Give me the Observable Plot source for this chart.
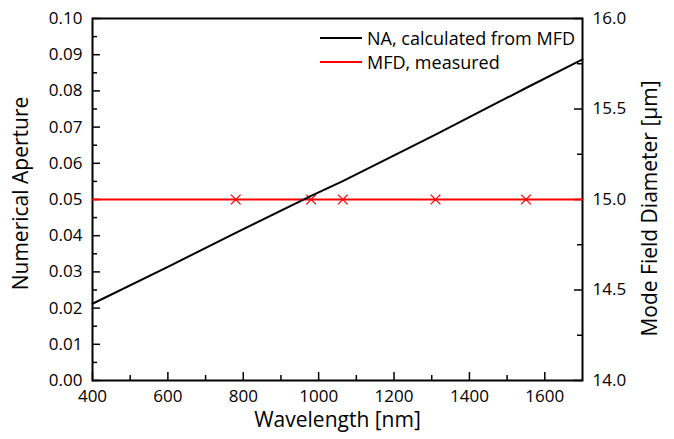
<!DOCTYPE html>
<html><head><meta charset="utf-8">
<script src="https://cdn.jsdelivr.net/npm/d3@7"></script>
<script src="https://cdn.jsdelivr.net/npm/@observablehq/plot@0.6"></script>
<style>
body{margin:0;background:#fff;}
#chart{position:relative;width:674px;height:439px;font-family:"Open Sans",sans-serif;color:#000;}
.leg{position:absolute;left:320px;font-size:18px;line-height:18px;display:flex;align-items:center;white-space:nowrap;}
.leg span.sw{display:inline-block;width:42px;height:0;border-top:2px solid;margin-right:5px;}
</style></head><body><div id="chart"></div>
<script>
// Data
const naWavelength = [400, 600, 780, 980, 1064, 1310, 1550, 1700];
const naValues     = [0.0212, 0.0314, 0.0408, 0.0510, 0.0551, 0.0679, 0.0808, 0.0887];
const mfdLineWavelength = [400, 1700];
const mfdLineValues     = [15.0, 15.0];
const mfdWavelength = [780, 980, 1064, 1310, 1550];
const mfdValues     = [15.0, 15.0, 15.0, 15.0, 15.0];
const xMajorTicks = [400, 600, 800, 1000, 1200, 1400, 1600];
const xMinorTicks = [500, 700, 900, 1100, 1300, 1500];
const yLeftMajor = [0, 0.01, 0.02, 0.03, 0.04, 0.05, 0.06, 0.07, 0.08, 0.09, 0.10];
const yLeftMinor = [0.005, 0.015, 0.025, 0.035, 0.045, 0.055, 0.065, 0.075, 0.085, 0.095];
const yRightMajor = [14.0, 14.5, 15.0, 15.5, 16.0];
const yRightMinor = [14.25, 14.75, 15.25, 15.75];
const legendLabels = ["NA, calculated from MFD", "MFD, measured"];

// right axis (MFD 14..16) mapped onto left scale (0..0.1)
const toNA = m => (m - 14) * 0.05;

const naData = naWavelength.map((w, i) => ({w, v: naValues[i]}));
const mfdLine = mfdLineWavelength.map((w, i) => ({w, m: mfdLineValues[i]}));
const mfdPts = mfdWavelength.map((w, i) => ({w, m: mfdValues[i]}));

const W = 674, H = 439, ML = 92, MR = 92, MT = 18, MB = 59;
const FW = W - ML - MR, FH = H - MT - MB;
const tickStyle = {stroke: "#000", strokeWidth: 1.5};

const plot = Plot.plot({
  width: W, height: H,
  marginLeft: ML, marginRight: MR, marginTop: MT, marginBottom: MB,
  style: {fontFamily: "Open Sans, sans-serif", fontSize: "17px", color: "#000", background: "#fff"},
  x: {domain: [400, 1700]},
  y: {domain: [0, 0.1]},
  marks: [
    // inward ticks (short tick marks inset from the opposite edge)
    Plot.tickX(xMajorTicks, {x: d => d, insetTop: FH - 8, ...tickStyle}),
    Plot.tickX(xMinorTicks, {x: d => d, insetTop: FH - 5, ...tickStyle}),
    Plot.tickY(yLeftMajor, {y: d => d, insetRight: FW - 8, ...tickStyle}),
    Plot.tickY(yLeftMinor, {y: d => d, insetRight: FW - 5, ...tickStyle}),
    Plot.tickY(yRightMajor, {y: d => toNA(d), insetLeft: FW - 8, ...tickStyle}),
    Plot.tickY(yRightMinor, {y: d => toNA(d), insetLeft: FW - 5, ...tickStyle}),
    // tick labels
    Plot.axisX({ticks: xMajorTicks, tickSize: 0, tickPadding: 9, tickFormat: d => String(d), label: null, fontSize: 17}),
    Plot.axisY({ticks: yLeftMajor, tickSize: 0, tickPadding: 10, tickFormat: d => d.toFixed(2), label: null, fontSize: 17}),
    Plot.axisY({anchor: "right", ticks: yRightMajor.map(toNA), tickSize: 0, tickPadding: 10, tickFormat: v => (14 + v * 20).toFixed(1), label: null, fontSize: 17}),
    Plot.frame({stroke: "#000", strokeWidth: 2}),
    Plot.line(mfdLine, {x: "w", y: d => toNA(d.m), stroke: "#ff0000", strokeWidth: 2}),
    Plot.dot(mfdPts, {x: "w", y: d => toNA(d.m), symbol: "times", r: 4.5, stroke: "#ff0000", strokeWidth: 1.3}),
    Plot.line(naData, {x: "w", y: "v", stroke: "#000", strokeWidth: 2}),
    Plot.text(["Wavelength [nm]"], {frameAnchor: "bottom", dy: 40, lineAnchor: "middle", textAnchor: "middle", fontSize: 21, text: d => d, fill: "#000"}),
    Plot.text(["Numerical Aperture"], {frameAnchor: "left", dx: -71, dy: -6, rotate: -90, lineAnchor: "middle", textAnchor: "middle", fontSize: 21, text: d => d, fill: "#000"}),
    Plot.text(["Mode Field Diameter [µm]"], {frameAnchor: "right", dx: 68, dy: 9, rotate: -90, lineAnchor: "middle", textAnchor: "middle", fontSize: 21, text: d => d, fill: "#000"})
  ]
});
const chart = document.getElementById("chart");
chart.appendChild(plot);
const colors = ["#000", "#ff0000"];
const tops = [29, 53];
legendLabels.forEach((t, i) => {
  const d = document.createElement("div");
  d.className = "leg";
  d.style.top = tops[i] + "px";
  const sw = document.createElement("span");
  sw.className = "sw";
  sw.style.borderColor = colors[i];
  d.appendChild(sw);
  d.appendChild(document.createTextNode(t));
  chart.appendChild(d);
});
</script></body></html>
